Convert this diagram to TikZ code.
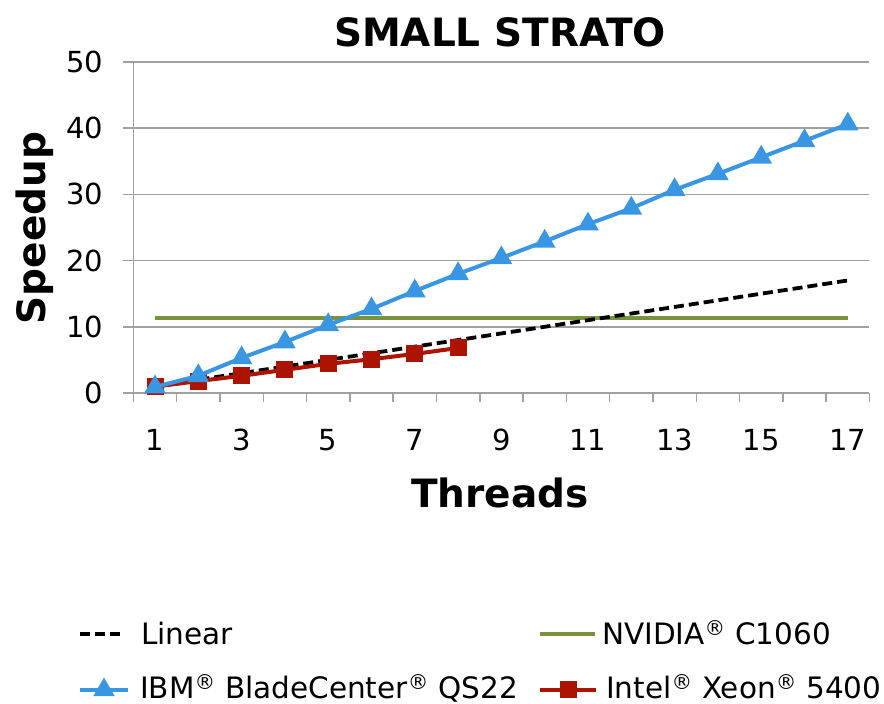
\documentclass[tikz,border=0pt]{standalone}
\usepackage{fontspec}
\setmainfont{DejaVu Sans}
\usepackage{tikz}
\usetikzlibrary{positioning,plotmarks}

\definecolor{ibmblue}{RGB}{57,150,227}
\definecolor{xeonred}{RGB}{172,20,0}
\definecolor{nvgreen}{RGB}{119,147,60}
\definecolor{gridgray}{RGB}{160,160,160}

\tikzset{
	gridline/.style={gridgray, line width=1.5pt},
	linear/.style={black, line width=3.8pt, dash pattern=on 10pt off 5pt},
	nvidia/.style={nvgreen, line width=4pt},
	ibm/.style={ibmblue, line width=4pt, mark=triangle*, mark size=8.5pt, mark options={solid}},
	xeon/.style={xeonred, line width=4pt, mark=square*, mark size=6.5pt, mark options={solid}},
	ticklabel/.style={inner sep=0pt, font=\fontsize{29}{32}\selectfont},
	axistitle/.style={inner sep=0pt, font=\fontsize{39}{42}\selectfont\bfseries},
	legtext/.style={inner sep=0pt, anchor=base west, font=\fontsize{29.5}{32}\selectfont}
}

\begin{document}
\begin{tikzpicture}[x=1pt,y=1pt]
		\useasboundingbox (0,0) rectangle (884,704);

		\node [axistitle] (title) at (500,671.5) {SMALL STRATO};
		\node [axistitle] (xtitle) at (500,211.5) {Threads};
		\node [axistitle, rotate=90] (ytitle) at (35,476) {Speedup};

	\begin{scope}[shift={(111.7,311)}, x=43.3pt, y=6.62pt]
		\foreach \v in {0,10,...,50}
			\draw [gridline] ([xshift=-10pt]0.5,\v) -- (17.5,\v);
		\draw [gridline] (0.5,0) -- (0.5,50);
		\foreach \i in {0.5,1.5,...,17.5}
			\draw [gridline] (\i,0) -- ([yshift=-9pt]\i,0);

		\foreach \v in {0,10,...,50}
			\node [ticklabel, anchor=east] (yt\v) at ([xshift=-30pt]0.5,\v) {\v};
		\foreach \n in {1,3,...,17}
			\node [ticklabel] (xt\n) at ([yshift=-47pt]\n,0) {\n};

		\draw [nvidia] (1,11.28) -- (17,11.28);
		\draw [linear] (1,1) -- (17,17);
		\draw [xeon] plot coordinates {(1,0.96) (2,1.8) (3,2.6) (4,3.5) (5,4.4) (6,5.1) (7,5.9) (8,6.8)};
		\draw [ibm] plot coordinates {(1,0.9) (2,2.6) (3,5.3) (4,7.7) (5,10.3) (6,12.7) (7,15.4) (8,18.0) (9,20.4)
			(10,22.9) (11,25.5) (12,27.9) (13,30.7) (14,33.1) (15,35.6) (16,38.1) (17,40.6)};
	\end{scope}

		\coordinate (linA) at (80,70);
		\coordinate (linB) at (120,70);
		\draw [linear] (linA) -- (linB);
		\node [legtext] (linT) at (141,59) {Linear};

		\coordinate (nvA) at (540,70);
		\coordinate (nvB) at (595,70);
		\draw [nvidia] (nvA) -- (nvB);
		\node [legtext] (nvT) at (602,59) {NVIDIA\textsuperscript{®} C1060};

		\coordinate (ibmA) at (80,14);
		\coordinate (ibmB) at (128,14);
		\draw [ibm] (ibmA) -- (ibmB);
		\draw [ibm] plot coordinates {(104,14)};
		\node [legtext] (ibmT) at (140,5.5) {IBM\textsuperscript{®} BladeCenter\textsuperscript{®} QS22};

		\coordinate (xeA) at (540,14);
		\coordinate (xeB) at (596,14);
		\draw [xeon] (xeA) -- (xeB);
		\draw [xeon] plot coordinates {(568,14)};
		\node [legtext] (xeT) at (606,5.5) {Intel\textsuperscript{®} Xeon\textsuperscript{®} 5400};

\end{tikzpicture}
\end{document}
